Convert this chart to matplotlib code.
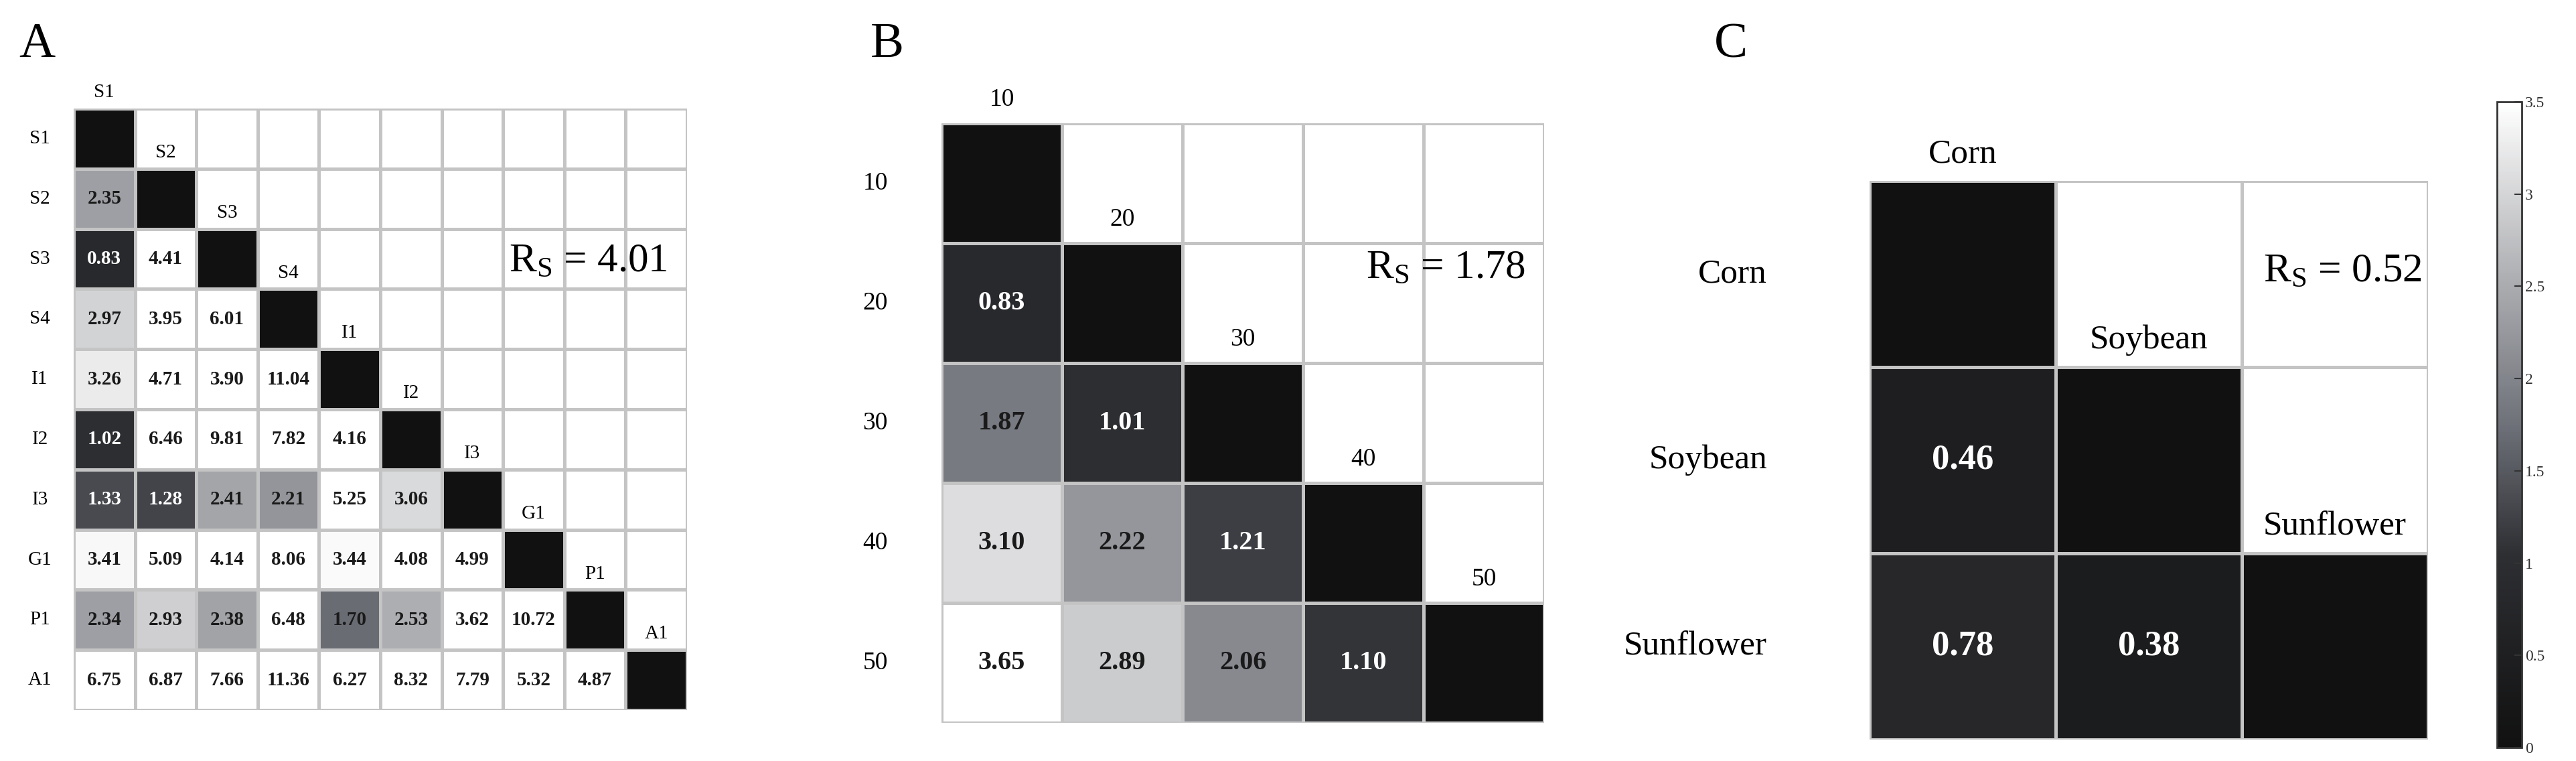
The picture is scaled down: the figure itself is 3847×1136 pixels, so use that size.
import numpy as np
import matplotlib
matplotlib.use("Agg")
import matplotlib.pyplot as plt
from matplotlib.colors import LinearSegmentedColormap, Normalize
import matplotlib.colorbar as mcolorbar

plt.rcParams['font.family'] = ['Liberation Serif', 'DejaVu Serif']
plt.rcParams['mathtext.fontset'] = 'custom'
plt.rcParams['mathtext.rm'] = 'Liberation Serif'

labels_a = ["S1", "S2", "S3", "S4", "I1", "I2", "I3", "G1", "P1", "A1"]
rows_a = [
    [2.35],
    [0.83, 4.41],
    [2.97, 3.95, 6.01],
    [3.26, 4.71, 3.90, 11.04],
    [1.02, 6.46, 9.81, 7.82, 4.16],
    [1.33, 1.28, 2.41, 2.21, 5.25, 3.06],
    [3.41, 5.09, 4.14, 8.06, 3.44, 4.08, 4.99],
    [2.34, 2.93, 2.38, 6.48, 1.70, 2.53, 3.62, 10.72],
    [6.75, 6.87, 7.66, 11.36, 6.27, 8.32, 7.79, 5.32, 4.87],
]
labels_b = ["10", "20", "30", "40", "50"]
rows_b = [
    [0.83],
    [1.87, 1.01],
    [3.10, 2.22, 1.21],
    [3.65, 2.89, 2.06, 1.10],
]
labels_c = ["Corn", "Soybean", "Sunflower"]
rows_c = [
    [0.46],
    [0.78, 0.38],
]
rs_values = [4.01, 1.78, 0.52]

cmap = LinearSegmentedColormap.from_list(
    "grayish", [(0, "#111111"), (0.3, "#2e2f33"), (0.5, "#6e7179"), (0.75, "#b4b5b8"), (1, "#ffffff")])
norm = Normalize(0, 3.5)

W, H = 3847, 1136
fig = plt.figure(figsize=(W / 100, H / 100), dpi=100)


def panel(box, labels, rows, letter, letter_xy, rs, rs_xy, vsize, lsize, lab_off):
    n = len(labels)
    M = np.zeros((n, n))
    for i, r in enumerate(rows):
        M[i + 1, :len(r)] = r
    mask = np.triu(np.ones((n, n), bool), k=1)
    x0, y0, x1, y1 = box
    ax = fig.add_axes([x0 / W, 1 - y1 / H, (x1 - x0) / W, (y1 - y0) / H])
    ax.pcolormesh(np.arange(n + 1) - 0.5, np.arange(n + 1) - 0.5,
                  np.ma.masked_array(M, mask), cmap=cmap, norm=norm,
                  edgecolors="#c4c4c4", linewidth=2.5)
    ax.set_xlim(-0.5, n - 0.5)
    ax.set_ylim(n - 0.5, -0.5)
    ax.axis("off")
    for i in range(n):
        ax.text(i, i - 0.5 - lab_off, labels[i], ha="center", va="bottom", fontsize=lsize)
        ax.text(-0.5 - 0.55 * (1 if n > 5 else 1.0), i, labels[i], ha="right" if n <= 3 else "center",
                va="center", fontsize=lsize)
        for j in range(i):
            v = M[i, j]
            ax.text(j, i, f"{v:.2f}", ha="center", va="center", fontsize=vsize,
                    fontweight="bold", color="white" if v < 1.5 else "#1a1a1a")
    fig.text(letter_xy[0] / W, 1 - letter_xy[1] / H, letter, fontsize=54, ha="left", va="baseline")
    fig.text(rs_xy[0] / W, 1 - rs_xy[1] / H, r"$\mathregular{R_S}$ = " + f"{rs:.2f}",
             fontsize=44, ha="left", va="center")


panel((110, 162, 1026, 1060), labels_a, rows_a, "A", (28, 85), rs_values[0], (760, 390), 21, 21, 0.12)
panel((1406, 184, 2306, 1079), labels_b, rows_b, "B", (1300, 85), rs_values[1], (2040, 400), 29, 27, 0.1)
panel((2792, 270, 3626, 1104), labels_c, rows_c, "C", (2560, 85), rs_values[2], (3380, 405), 38, 37, 0.06)

cax = fig.add_axes([3729 / W, 1 - 1116 / H, 37 / W, (1116 - 152) / H])
cb = mcolorbar.ColorbarBase(cax, cmap=cmap, norm=norm, ticks=[0, 0.5, 1, 1.5, 2, 2.5, 3, 3.5])
cb.ax.set_yticklabels(["0", "0.5", "1", "1.5", "2", "2.5", "3", "3.5"])
cb.ax.tick_params(labelsize=17, colors="#333333", direction="in", length=8, width=1.5)
cb.outline.set_edgecolor("#333333")
cb.outline.set_linewidth(2)

fig.savefig("out.png", dpi=100, facecolor="white")
